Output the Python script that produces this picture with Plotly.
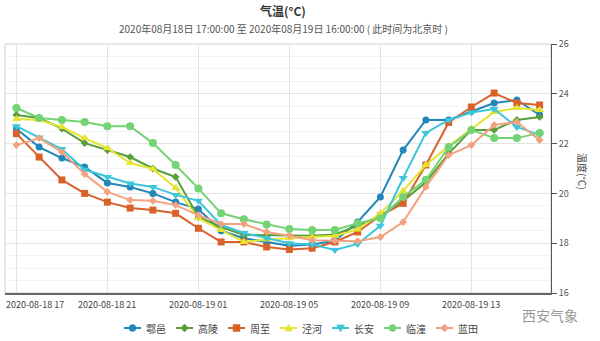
import plotly.graph_objects as go
import pandas as pd

times = pd.date_range("2020-08-18 17:00", "2020-08-19 16:00", freq="h")

names = ["鄠邑", "高陵", "周至", "泾河", "长安", "临潼", "蓝田"]

huyi =     [22.6, 21.86, 21.42, 21.06, 20.42, 20.26, 20.0, 19.65, 19.37, 18.5, 18.2, 18.05, 17.9, 17.95, 18.1, 18.85, 19.86, 21.74, 22.95, 22.95, 23.3, 23.63, 23.75, 23.15]
gaoling =  [23.15, 23.03, 22.6, 22.02, 21.74, 21.46, 21.0, 20.66, 19.05, 18.65, 18.33, 18.33, 18.3, 18.3, 18.35, 18.7, 19.1, 19.7, 20.45, 21.6, 22.55, 22.55, 22.95, 23.07]
zhouzhi =  [22.4, 21.46, 20.54, 20.0, 19.65, 19.41, 19.33, 19.2, 18.6, 18.05, 18.05, 17.85, 17.75, 17.8, 18.05, 18.45, 19.1, 19.6, 21.14, 22.85, 23.47, 24.03, 23.63, 23.55]
jinghe =   [22.99, 22.95, 22.67, 22.22, 21.82, 21.22, 20.98, 20.22, 19.0, 18.53, 18.05, 18.15, 18.2, 18.25, 18.3, 18.55, 19.2, 20.1, 21.14, 21.9, 22.6, 23.27, 23.43, 23.35]
changan =  [22.7, 22.25, 21.78, 20.95, 20.66, 20.4, 20.26, 19.94, 19.7, 18.73, 18.41, 18.2, 18.0, 17.95, 17.73, 17.97, 18.7, 20.62, 22.43, 22.95, 23.25, 23.39, 22.67, 22.35]
lintong =  [23.43, 23.03, 22.95, 22.87, 22.7, 22.7, 22.02, 21.14, 20.2, 19.2, 18.96, 18.75, 18.57, 18.53, 18.53, 18.8, 19.0, 19.86, 20.55, 21.86, 22.55, 22.22, 22.22, 22.43]
lantian =  [21.94, 22.22, 21.66, 20.78, 20.06, 19.73, 19.7, 19.53, 19.13, 18.77, 18.77, 18.45, 18.3, 18.12, 18.1, 18.08, 18.25, 18.85, 20.26, 21.54, 21.94, 22.75, 22.87, 22.14]

series = [huyi, gaoling, zhouzhi, jinghe, changan, lintong, lantian]
colors = ["#2386b8", "#5a9e3a", "#d9622b", "#e4e432", "#3cc6da", "#74d374", "#f2a27e"]
symbols = ["circle", "diamond", "square", "triangle-up", "triangle-down", "circle", "diamond"]
sizes = [7, 6, 7, 8, 8, 8, 6]

tick_labels = ["2020-08-18 17", "2020-08-18 21", "2020-08-19 01", "2020-08-19 05", "2020-08-19 09", "2020-08-19 13"]
tick_vals = list(pd.date_range("2020-08-18 17:00", periods=6, freq="4h"))

title_text = "<b>气温(°C)</b>"
subtitle_text = "2020年08月18日 17:00:00 至 2020年08月19日 16:00:00 ( 此时间为北京时 )"
ytitle = "温度(°C)"
watermark = "西安气象"

FONT = "Noto Sans CJK SC"
W, H = 600, 341
ML, MR, MT, MB = 5, 49, 44, 48
PW, PH = W - ML - MR, H - MT - MB


def px_x(px):
    return (px - ML) / PW


def px_y(py):
    return (H - MB - py) / PH


fig = go.Figure()
for name, vals, c, s, sz in zip(names, series, colors, symbols, sizes):
    fig.add_trace(go.Scatter(
        x=times, y=vals, name=name, mode="lines+markers",
        line=dict(color=c, width=2),
        marker=dict(color=c, symbol=s, size=sz),
    ))

shapes = [dict(type="rect", xref="paper", yref="paper", x0=0, x1=1, y0=0, y1=1,
               line=dict(color="#d0d0d0", width=1), layer="below")]
annotations = [
    dict(text=title_text, xref="paper", yref="paper", x=px_x(283), y=px_y(11),
         xanchor="center", yanchor="middle", showarrow=False,
         font=dict(size=12, color="#333", family=FONT)),
    dict(text=subtitle_text, xref="paper", yref="paper", x=px_x(283), y=px_y(29),
         xanchor="center", yanchor="middle", showarrow=False,
         font=dict(size=10, color="#555", family=FONT)),
    dict(text=ytitle, xref="paper", yref="paper", x=1, y=0.49, xshift=31,
         xanchor="center", yanchor="middle", textangle=90, showarrow=False,
         font=dict(size=10, color="#444", family=FONT)),
    dict(text=watermark, xref="paper", yref="paper", x=px_x(550), y=px_y(315),
         xanchor="center", yanchor="middle", showarrow=False,
         font=dict(size=14, color="#999", family=FONT)),
]

# x tick labels (first one kept inside the chart, like the original)
for i, (tv, tl) in enumerate(zip(tick_vals, tick_labels)):
    if i == 0:
        annotations.append(dict(text=tl, xref="paper", yref="paper", x=px_x(4), y=px_y(304),
                                xanchor="left", yanchor="middle", showarrow=False,
                                font=dict(size=9, color="#444", family=FONT)))
    else:
        annotations.append(dict(text=tl, xref="x", yref="paper", x=tv, y=px_y(304),
                                xanchor="center", yanchor="middle", showarrow=False,
                                font=dict(size=9, color="#444", family=FONT)))

# custom compact legend
LEG_X0, LEG_PITCH, LEG_Y = 124, 52, 328
marker_paths = {
    "diamond": "M 0,4 L 4,0 L 0,-4 L -4,0 Z",
    "triangle-up": "M -4,-3 L 4,-3 L 0,4 Z",
    "triangle-down": "M -4,3 L 4,3 L 0,-4 Z",
}
for k, (name, c, s) in enumerate(zip(names, colors, symbols)):
    sx = LEG_X0 + LEG_PITCH * k
    common = dict(xref="paper", yref="paper", xsizemode="pixel", ysizemode="pixel",
                  xanchor=px_x(sx), yanchor=px_y(LEG_Y))
    shapes.append(dict(type="line", x0=0, x1=17, y0=0, y1=0,
                       line=dict(color=c, width=2), **common))
    mk = dict(xref="paper", yref="paper", xsizemode="pixel", ysizemode="pixel",
              xanchor=px_x(sx + 8.5), yanchor=px_y(LEG_Y),
              fillcolor=c, line=dict(color=c, width=0.5))
    if s == "circle":
        shapes.append(dict(type="circle", x0=-3.5, x1=3.5, y0=-3.5, y1=3.5, **mk))
    elif s == "square":
        shapes.append(dict(type="rect", x0=-3.5, x1=3.5, y0=-3.5, y1=3.5, **mk))
    else:
        shapes.append(dict(type="path", path=marker_paths[s], **mk))
    annotations.append(dict(text=name, xref="paper", yref="paper", x=px_x(sx + 20), y=px_y(LEG_Y),
                            xanchor="left", yanchor="middle", showarrow=False,
                            font=dict(size=10, color="#444", family=FONT)))

fig.update_layout(
    width=W, height=H,
    margin=dict(l=ML, r=MR, t=MT, b=MB),
    paper_bgcolor="white", plot_bgcolor="white",
    font=dict(family=FONT, size=9, color="#555"),
    showlegend=False,
    xaxis=dict(
        range=[pd.Timestamp("2020-08-18 16:30"), pd.Timestamp("2020-08-19 16:30")],
        tickvals=tick_vals, showticklabels=False,
        showgrid=True, gridcolor="#e4e4e4", gridwidth=1,
        showline=True, linecolor="#666", linewidth=2,
        ticks="", zeroline=False,
    ),
    yaxis=dict(
        side="right", range=[16, 26], dtick=2, tick0=16,
        showgrid=True, gridcolor="#e4e4e4", gridwidth=1,
        minor=dict(dtick=0.5, showgrid=True, gridcolor="#f3f3f3", gridwidth=1),
        showline=True, linecolor="#555", linewidth=1,
        ticks="outside", ticklen=5, tickcolor="#555",
        tickfont=dict(size=9, color="#555"),
        zeroline=False,
    ),
    shapes=shapes,
    annotations=annotations,
)

fig.write_html("out.html")
